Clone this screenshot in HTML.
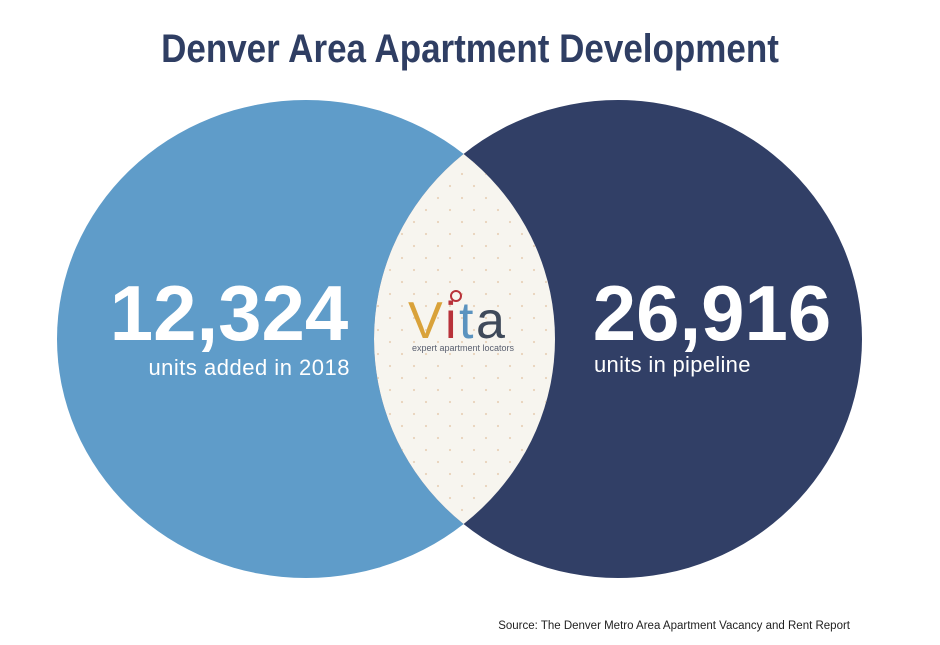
<!DOCTYPE html>
<html><head><meta charset="utf-8"><style>
body{margin:0;background:#fff;}
svg{display:block;}
</style></head><body>
<svg width="940" height="645" viewBox="0 0 940 645">
<defs>
<clipPath id="clipL"><ellipse cx="306" cy="339" rx="249" ry="239"/></clipPath>
<pattern id="dots" width="24" height="24" patternUnits="userSpaceOnUse"><circle cx="6" cy="6" r="1.1" fill="#e8d3bb"/><circle cx="18" cy="18" r="1.1" fill="#e8d3bb"/></pattern>
</defs>
<text x="470" y="62" text-anchor="middle" font-family="Liberation Sans, sans-serif" font-weight="bold" font-size="40" fill="#2f3e63" transform="translate(470 0) scale(0.875 1) translate(-470 0)">Denver Area Apartment Development</text>
<ellipse cx="306" cy="339" rx="249" ry="239" fill="#5f9cc9"/>
<ellipse cx="618" cy="339" rx="244" ry="239" fill="#313f66"/>
<g clip-path="url(#clipL)">
<ellipse cx="618" cy="339" rx="244" ry="239" fill="#f7f5ef"/>
<ellipse cx="618" cy="339" rx="244" ry="239" fill="url(#dots)"/>
</g>
<text x="229" y="340" text-anchor="middle" font-family="Liberation Sans, sans-serif" font-weight="bold" font-size="78" fill="#fff">12,324</text>
<text x="350" y="375" text-anchor="end" font-family="Liberation Sans, sans-serif" font-size="22" letter-spacing="0.5" fill="#fff">units added in 2018</text>
<text x="712" y="340" text-anchor="middle" font-family="Liberation Sans, sans-serif" font-weight="bold" font-size="78" fill="#fff">26,916</text>
<text x="594" y="372" font-family="Liberation Sans, sans-serif" font-size="22" letter-spacing="0.3" fill="#fff">units in pipeline</text>
<g font-family="Liberation Sans, sans-serif" font-size="52">
<text x="408" y="338" fill="#d9a23a">V</text>
<text x="445" y="338" fill="#b8323a">i</text>
<circle cx="456" cy="296" r="5" fill="none" stroke="#b8323a" stroke-width="2"/>
<text x="459" y="338" fill="#5b93bf">t</text>
<text x="476" y="338" fill="#3f4a5a">a</text>
<text x="463" y="351" text-anchor="middle" font-size="9" fill="#5a6070">expert apartment locators</text>
</g>
<text x="850" y="629" text-anchor="end" font-family="Liberation Sans, sans-serif" font-size="11.5" fill="#222">Source: The Denver Metro Area Apartment Vacancy and Rent Report</text>
</svg>
</body></html>
